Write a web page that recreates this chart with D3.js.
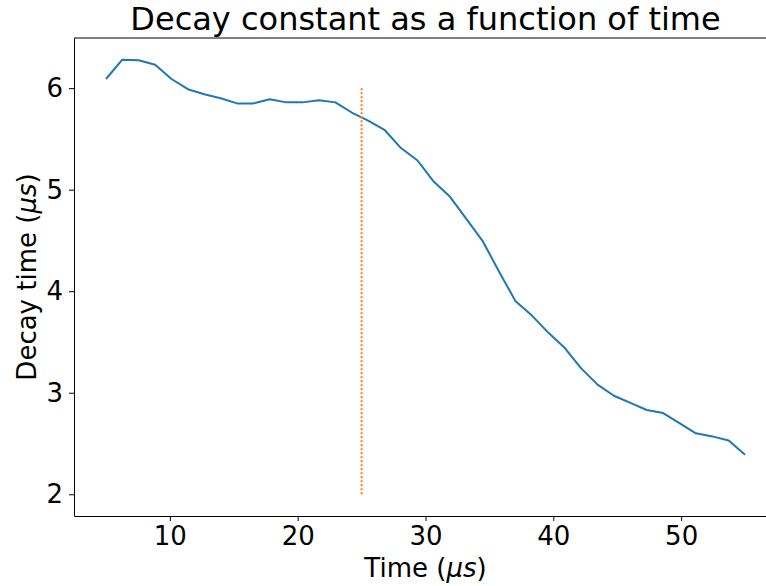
<!DOCTYPE html>
<html>
<head>
<meta charset="utf-8">
<script src="https://cdn.jsdelivr.net/npm/d3@7"></script>
<style>
  body { margin: 0; background: #fff; }
  svg { display: block; font-family: 'DejaVu Sans', sans-serif; }
</style>
</head>
<body>
<div id="chart"></div>
<script>
const times = [5, 6.28, 7.56, 8.85, 10.13, 11.41, 12.69, 13.97, 15.26, 16.54,
  17.82, 19.10, 20.38, 21.67, 22.95, 24.23, 25.51, 26.79, 28.08, 29.36,
  30.64, 31.92, 33.21, 34.49, 35.77, 37.05, 38.33, 39.62, 40.90, 42.18,
  43.46, 44.74, 46.03, 47.31, 48.59, 49.87, 51.15, 52.44, 53.72, 55];
const decay = [6.09, 6.28, 6.275, 6.23, 6.09, 5.99, 5.94, 5.90, 5.85, 5.85,
  5.89, 5.86, 5.86, 5.88, 5.86, 5.76, 5.68, 5.59, 5.41, 5.29,
  5.08, 4.93, 4.71, 4.49, 4.19, 3.90, 3.76, 3.59, 3.44, 3.24,
  3.08, 2.97, 2.90, 2.83, 2.80, 2.70, 2.60, 2.57, 2.53, 2.39];
const markerTime = [25, 25];
const markerDecay = [2, 6];
const xTicks = [10, 20, 30, 40, 50];
const yTicks = [2, 3, 4, 5, 6];

const width = 766, height = 586;
const margin = { top: 38, right: -11, bottom: 70, left: 74 };

const svg = d3.select('#chart')
  .append('svg')
  .attr('width', width)
  .attr('height', height);

const x = d3.scaleLinear()
  .domain([2.5, 57.5])
  .range([margin.left, width - margin.right]);

const y = d3.scaleLinear()
  .domain([1.786, 6.494])
  .range([height - margin.bottom, margin.top]);

const data = times.map((t, i) => ({ t, v: decay[i] }));
const marker = markerTime.map((t, i) => ({ t, v: markerDecay[i] }));

const line = d3.line().x(d => x(d.t)).y(d => y(d.v));

svg.append('path')
  .datum(data)
  .attr('fill', 'none')
  .attr('stroke', '#1f77b4')
  .attr('stroke-width', 2)
  .attr('stroke-linejoin', 'round')
  .attr('d', line);

svg.append('path')
  .datum(marker)
  .attr('fill', 'none')
  .attr('stroke', '#ff7f0e')
  .attr('stroke-width', 2)
  .attr('stroke-dasharray', '2,2')
  .attr('d', line);

const xAxis = svg.append('g')
  .attr('transform', `translate(0,${height - margin.bottom})`)
  .call(d3.axisBottom(x).tickValues(xTicks).tickFormat(d3.format('d'))
    .tickSize(5).tickPadding(6).tickSizeOuter(0));

const yAxis = svg.append('g')
  .attr('transform', `translate(${margin.left},0)`)
  .call(d3.axisLeft(y).tickValues(yTicks).tickFormat(d3.format('d'))
    .tickSize(5).tickPadding(6).tickSizeOuter(0));

[xAxis, yAxis].forEach(g => {
  g.selectAll('text')
    .attr('fill', '#000')
    .style('font-family', "'DejaVu Sans', sans-serif")
    .style('font-size', '26px');
  g.selectAll('line').attr('stroke', '#000');
  g.select('.domain').attr('stroke', '#000');
});

// top frame line
svg.append('line')
  .attr('x1', margin.left).attr('x2', width - margin.right)
  .attr('y1', margin.top).attr('y2', margin.top)
  .attr('stroke', '#000');
svg.append('line')
  .attr('x1', width - margin.right).attr('x2', width - margin.right)
  .attr('y1', margin.top).attr('y2', height - margin.bottom)
  .attr('stroke', '#000');

svg.append('text')
  .attr('x', (margin.left + width - margin.right) / 2)
  .attr('y', 30)
  .attr('text-anchor', 'middle')
  .style('font-size', '32px')
  .text('Decay constant as a function of time');

const xl = svg.append('text')
  .attr('x', (margin.left + width - margin.right) / 2)
  .attr('y', 577)
  .attr('text-anchor', 'middle')
  .style('font-size', '26px');
xl.append('tspan').text('Time (');
xl.append('tspan').style('font-style', 'italic').text('μs');
xl.append('tspan').text(')');

const yl = svg.append('text')
  .attr('transform', `translate(36,${(margin.top + height - margin.bottom) / 2}) rotate(-90)`)
  .attr('text-anchor', 'middle')
  .style('font-size', '26px');
yl.append('tspan').text('Decay time (');
yl.append('tspan').style('font-style', 'italic').text('μs');
yl.append('tspan').text(')');
</script>
</body>
</html>
